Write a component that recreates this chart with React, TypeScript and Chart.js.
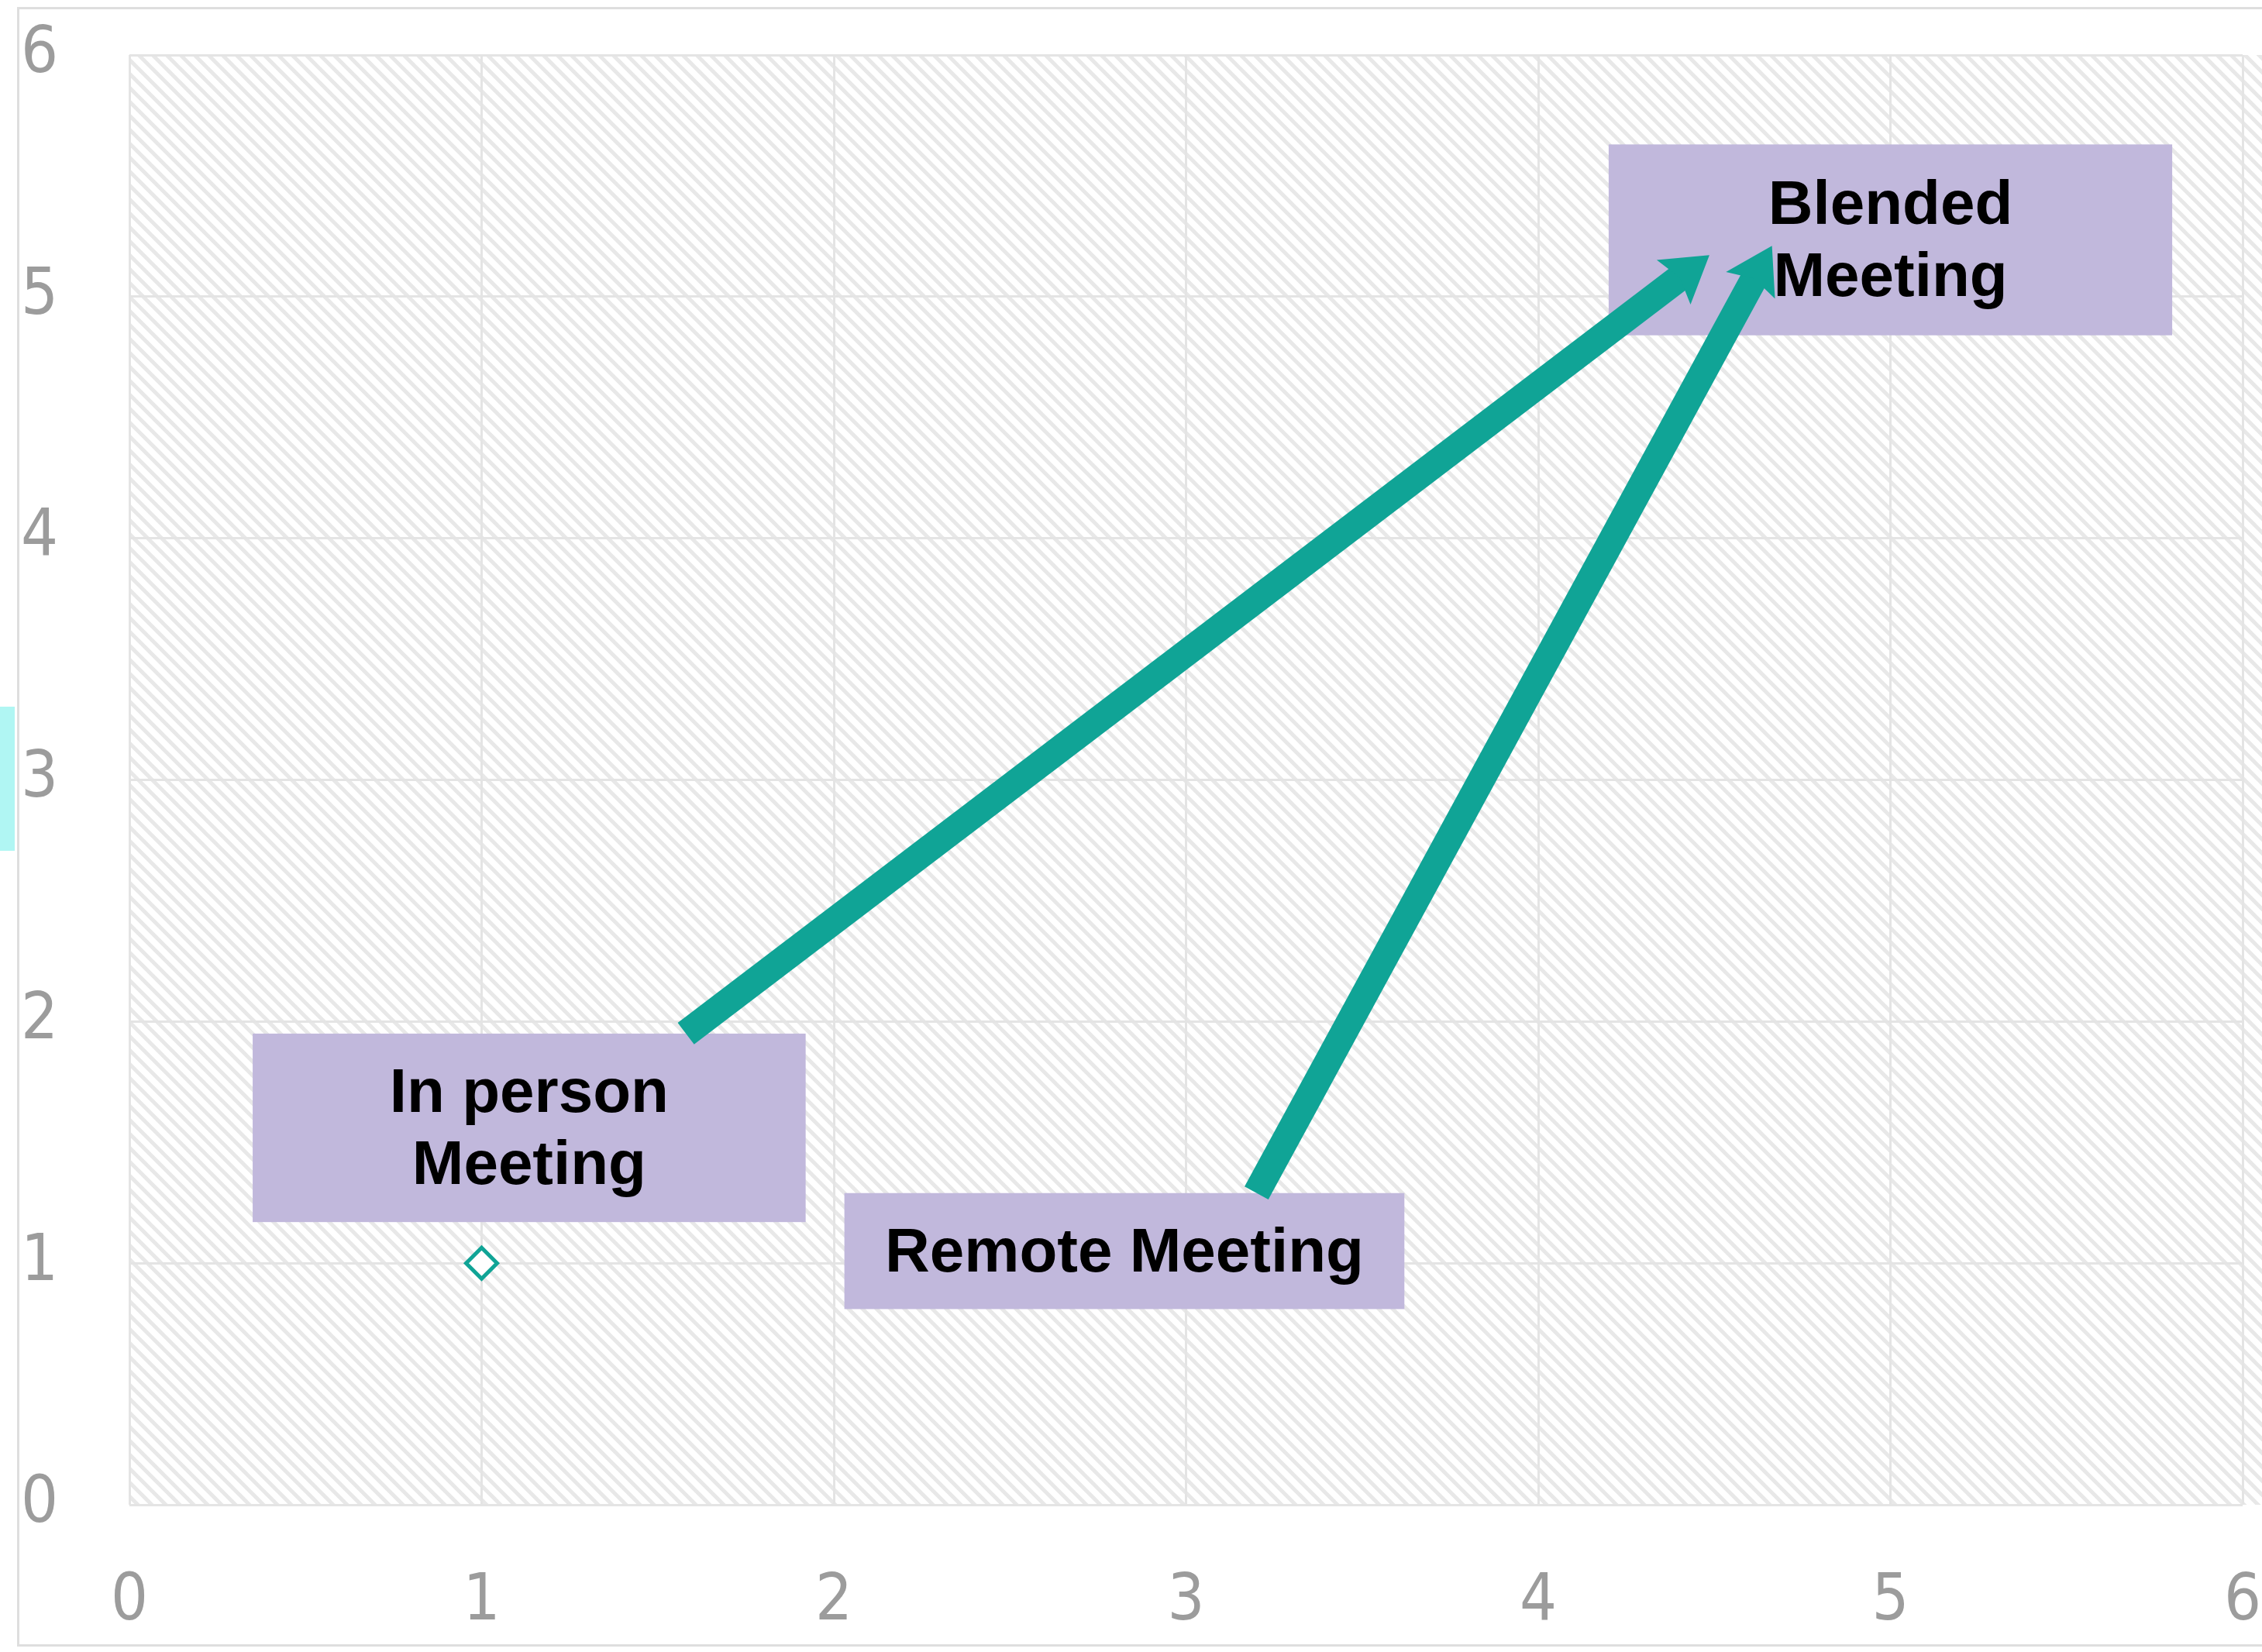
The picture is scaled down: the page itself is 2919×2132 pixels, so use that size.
import { useEffect, useRef } from "react";
import { Chart, registerables } from "chart.js";

Chart.register(...registerables);

// ---- data ----
const xTickValues = [0, 1, 2, 3, 4, 5, 6];
const yTickValues = [0, 1, 2, 3, 4, 5, 6];
const markerPoints = [{ x: 1, y: 1 }];
const arrowFromX = [1.58, 3.2];
const arrowFromY = [1.95, 1.29];
const arrowToX = [4.43, 4.63];
const arrowToY = [5.11, 5.12];
const boxLabels = [["Blended", "Meeting"], ["In person", "Meeting"], ["Remote Meeting"]];
const boxX0 = [4.2, 0.35, 2.03];
const boxX1 = [5.8, 1.92, 3.62];
const boxY0 = [4.84, 1.17, 0.81];
const boxY1 = [5.63, 1.95, 1.29];

const TEAL = "#10a496";
const BOX = "#c1b8dc";
const TICK_FONT = "'Liberation Sans Narrow', 'DejaVu Sans Condensed', 'Open Sans', sans-serif";

function makeHatch(ctx: CanvasRenderingContext2D) {
  const s = 18;
  const c = document.createElement("canvas");
  c.width = s;
  c.height = s;
  const g = c.getContext("2d")!;
  g.fillStyle = "#ffffff";
  g.fillRect(0, 0, s, s);
  g.strokeStyle = "#e8e8e8";
  g.lineWidth = 5;
  g.beginPath();
  g.moveTo(-s, -s);
  g.lineTo(2 * s, 2 * s);
  g.moveTo(-s, 0);
  g.lineTo(s, 2 * s);
  g.moveTo(0, -s);
  g.lineTo(2 * s, s);
  g.stroke();
  return ctx.createPattern(c, "repeat");
}

const hatchPlugin = {
  id: "hatchBg",
  beforeDraw(chart: any) {
    const { ctx, chartArea } = chart;
    if (!chartArea) return;
    ctx.save();
    const p = makeHatch(ctx);
    if (p) ctx.fillStyle = p;
    ctx.fillRect(chartArea.left, chartArea.top, chartArea.right - chartArea.left + 40, chartArea.bottom - chartArea.top);
    ctx.restore();
  },
};

const boxesPlugin = {
  id: "boxes",
  beforeDatasetsDraw(chart: any) {
    const { ctx, scales } = chart;
    const xs = scales.x;
    const ys = scales.y;
    ctx.save();
    for (let i = 0; i < boxLabels.length; i++) {
      const l = xs.getPixelForValue(boxX0[i]);
      const r = xs.getPixelForValue(boxX1[i]);
      const t = ys.getPixelForValue(boxY1[i]);
      const b = ys.getPixelForValue(boxY0[i]);
      ctx.fillStyle = BOX;
      ctx.fillRect(l, t, r - l, b - t);
      ctx.fillStyle = "#000000";
      ctx.font = "bold 80px 'Liberation Sans', Arial, sans-serif";
      ctx.textAlign = "center";
      ctx.textBaseline = "middle";
      const lines = boxLabels[i];
      const lh = 93;
      const cx = (l + r) / 2;
      const cy = (t + b) / 2 + 4;
      lines.forEach((ln, k) => {
        ctx.fillText(ln, cx, cy + (k - (lines.length - 1) / 2) * lh);
      });
    }
    ctx.restore();
  },
};

const arrowHeadPlugin = {
  id: "arrowHeads",
  afterDatasetsDraw(chart: any) {
    const { ctx, scales } = chart;
    const xs = scales.x;
    const ys = scales.y;
    ctx.save();
    ctx.fillStyle = TEAL;
    for (let i = 0; i < arrowToX.length; i++) {
      const x0 = xs.getPixelForValue(arrowFromX[i]);
      const y0 = ys.getPixelForValue(arrowFromY[i]);
      const x1 = xs.getPixelForValue(arrowToX[i]);
      const y1 = ys.getPixelForValue(arrowToY[i]);
      const dx = x1 - x0;
      const dy = y1 - y0;
      const len = Math.hypot(dx, dy);
      const ux = dx / len;
      const uy = dy / len;
      const px = -uy;
      const py = ux;
      const tipX = x1 + ux * 32;
      const tipY = y1 + uy * 32;
      const baseX = x1 - ux * 26;
      const baseY = y1 - uy * 26;
      const hw = 36;
      ctx.beginPath();
      ctx.moveTo(tipX, tipY);
      ctx.lineTo(baseX + px * hw, baseY + py * hw);
      ctx.lineTo(baseX + ux * 10, baseY + uy * 10);
      ctx.lineTo(baseX - px * hw, baseY - py * hw);
      ctx.closePath();
      ctx.fill();
    }
    ctx.restore();
  },
};

export default function App() {
  const ref = useRef<HTMLCanvasElement | null>(null);

  useEffect(() => {
    if (!ref.current) return;
    const arrowSets = arrowToX.map((_, i) => ({
      type: "line" as const,
      label: "arrow" + i,
      data: [
        { x: arrowFromX[i], y: arrowFromY[i] },
        { x: arrowToX[i], y: arrowToY[i] },
      ],
      borderColor: TEAL,
      borderWidth: 35,
      borderCapStyle: "butt" as const,
      pointRadius: 0,
      fill: false,
      tension: 0,
    }));
    const chart = new Chart(ref.current, {
      type: "scatter",
      data: {
        datasets: [
          ...arrowSets,
          {
            type: "scatter" as const,
            label: "point",
            data: markerPoints,
            pointStyle: "rectRot",
            pointRadius: 20,
            borderWidth: 5,
            borderColor: TEAL,
            backgroundColor: "#ffffff",
          },
        ] as any,
      },
      options: {
        animation: false,
        responsive: true,
        maintainAspectRatio: false,
        devicePixelRatio: 1,
        layout: { padding: { top: 71, right: 24, left: 0, bottom: 0 } },
        plugins: { legend: { display: false }, tooltip: { enabled: false } },
        scales: {
          x: {
            type: "linear",
            min: 0,
            max: 6,
            afterBuildTicks(scale: any) {
              scale.ticks = xTickValues.map((v) => ({ value: v }));
            },
            afterFit(scale: any) {
              scale.height = 190;
            },
            grid: { color: "#e4e4e4", lineWidth: 3, drawTicks: true, tickLength: 76, tickColor: "rgba(0,0,0,0)" },
            border: { display: false },
            ticks: {
              padding: 0,
              color: "#9c9c9c",
              font: { family: TICK_FONT, size: 84, weight: 300 as any },
            },
          },
          y: {
            type: "linear",
            min: 0,
            max: 6,
            afterBuildTicks(scale: any) {
              scale.ticks = yTickValues.map((v) => ({ value: v }));
            },
            afterFit(scale: any) {
              scale.width = 167;
            },
            grid: { color: "#e4e4e4", lineWidth: 3, drawTicks: true, tickLength: 92, tickColor: "rgba(0,0,0,0)" },
            border: { display: false },
            ticks: {
              padding: 0,
              color: "#9c9c9c",
              font: { family: TICK_FONT, size: 84, weight: 300 as any },
            },
          },
        },
      },
      plugins: [hatchPlugin, boxesPlugin, arrowHeadPlugin],
    });
    return () => chart.destroy();
  }, []);

  return (
    <div style={{ position: "absolute", left: 0, top: 0, width: 2919, height: 2132, overflow: "hidden", background: "#ffffff" }}>
      <div style={{ position: "absolute", left: 22, top: 9, width: 3000, height: 2116, border: "3px solid #dedede", boxSizing: "border-box" }} />
      <div style={{ position: "absolute", left: 0, top: 912, width: 19, height: 186, background: "#b0f6f3" }} />
      <div style={{ position: "absolute", left: 0, top: 0, width: 2919, height: 2132 }}>
        <canvas ref={ref} />
      </div>
    </div>
  );
}
